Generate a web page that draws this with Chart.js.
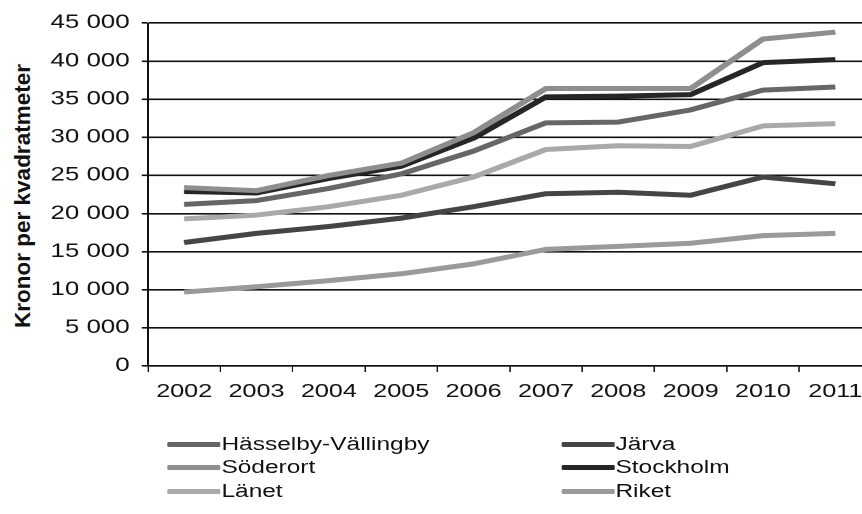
<!DOCTYPE html>
<html>
<head>
<meta charset="utf-8">
<script src="https://cdn.jsdelivr.net/npm/chart.js@4.4.0/dist/chart.umd.min.js"></script>
<style>
    html, body { margin: 0; padding: 0; background: #fff; overflow: hidden; }
    body { width: 862px; height: 514px; position: relative; font-family: "Liberation Sans", Arial, sans-serif; }
    /* the scanned original is stretched sideways, so the chart is drawn narrow and widened */
    #wrap { position: absolute; left: 0; top: 0; width: 650px; height: 514px; transform: scaleX(1.36); transform-origin: 0 0; }
    #chart { position: absolute; left: 0; top: 0; }
    #yTitle {
        position: absolute; left: 23px; top: 196px;
        transform: translate(-50%, -50%) rotate(-90deg);
        font-weight: bold; font-size: 22.5px; color: #111; white-space: nowrap;
    }
    .item { position: absolute; height: 22px; display: flex; align-items: center; font-size: 18px; color: #111; white-space: nowrap; }
    .swatch { width: 39px; height: 5px; margin-right: 1px; border-radius: 1px; }
</style>
</head>
<body>
<div id="yTitle">Kronor per kvadratmeter</div>
<div id="wrap">
    <canvas id="chart" width="650" height="410"></canvas>
    <div id="legend"></div>
</div>
<script>
/* ================= DATA ================= */
const years = ["2002", "2003", "2004", "2005", "2006", "2007", "2008", "2009", "2010", "2011"];
const yTicks = [0, 5000, 10000, 15000, 20000, 25000, 30000, 35000, 40000, 45000];

const hasselby  = [21200, 21700, 23300, 25200, 28200, 31900, 32000, 33600, 36200, 36600];
const jarva     = [16200, 17400, 18300, 19400, 20900, 22600, 22800, 22400, 24800, 23900];
const soderort  = [23400, 23000, 25000, 26600, 30600, 36400, 36400, 36400, 42900, 43800];
const stockholm = [22900, 22700, 24600, 26200, 29900, 35300, 35400, 35600, 39800, 40200];
const lanet     = [19300, 19800, 20900, 22400, 24800, 28400, 28900, 28800, 31500, 31800];
const riket     = [9700, 10400, 11200, 12100, 13400, 15300, 15700, 16100, 17100, 17400];

const seriesNames = ["Hässelby-Vällingby", "Järva", "Söderort", "Stockholm", "Länet", "Riket"];
const seriesData = [hasselby, jarva, soderort, stockholm, lanet, riket];
const seriesColors = ["#666666", "#454545", "#8e8e8e", "#262626", "#a9a9a9", "#9a9a9a"];

/* ================= CHART ================= */
const fmt = v => String(v).replace(/\B(?=(\d{3})+(?!\d))/g, " ");

const datasets = seriesNames.map((name, i) => ({
    label: name,
    data: seriesData[i],
    borderColor: seriesColors[i],
    backgroundColor: seriesColors[i],
    borderWidth: 5,
    pointRadius: 0,
    tension: 0,
    borderCapStyle: "butt",
    borderJoinStyle: "round",
    fill: false
}));

// draw lower series first so the top ones sit above
const drawOrder = [5, 0, 4, 1, 3, 2];
datasets.forEach((d, i) => { d.order = drawOrder.length - drawOrder.indexOf(i); });

new Chart(document.getElementById("chart"), {
    type: "line",
    data: { labels: years, datasets: datasets },
    options: {
        responsive: false,
        animation: false,
        devicePixelRatio: 2,
        layout: { padding: { left: 0, top: 23, right: 9.2, bottom: 0 } },
        plugins: { legend: { display: false }, tooltip: { enabled: false } },
        scales: {
            x: {
                offset: true,
                grid: { display: true, drawOnChartArea: false, drawTicks: true, tickLength: 6, offset: true, color: "#111", lineWidth: 1 },
                border: { display: true, color: "#111", width: 1.6 },
                ticks: { color: "#111", font: { family: "Liberation Sans, Arial", size: 18.5 }, padding: 9, maxRotation: 0, autoSkip: false },
                afterFit: s => { s.height = 44; }
            },
            y: {
                min: 0,
                max: 45000,
                afterBuildTicks: s => { s.ticks = yTicks.map(v => ({ value: v })); },
                grid: { color: "#111", lineWidth: 1.6, drawTicks: true, tickLength: 4.5 },
                border: { display: true, color: "#111", width: 1.5 },
                ticks: { color: "#111", font: { family: "Liberation Sans, Arial", size: 19 }, padding: 9, callback: v => fmt(v) },
                afterFit: s => { s.width = 108.8; }
            }
        }
    }
});

/* ================= LEGEND ================= */
const legend = document.getElementById("legend");
const colX = [122.8, 412.5];
const rowY = [444, 467, 491];
seriesNames.forEach((name, i) => {
    const item = document.createElement("div");
    item.className = "item";
    item.style.left = colX[i % 2] + "px";
    item.style.top = (rowY[Math.floor(i / 2)] - 11) + "px";
    const sw = document.createElement("div");
    sw.className = "swatch";
    sw.style.background = seriesColors[i];
    item.appendChild(sw);
    item.appendChild(document.createTextNode(name));
    legend.appendChild(item);
});
</script>
</body>
</html>
